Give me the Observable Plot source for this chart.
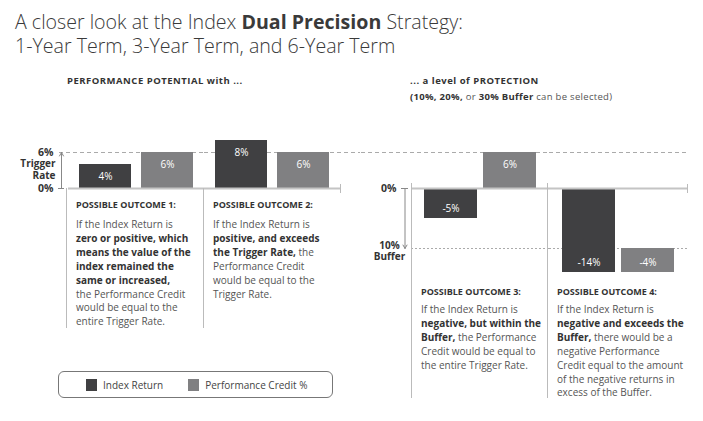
<!DOCTYPE html>
<html><head><meta charset="utf-8">
<script src="https://cdn.jsdelivr.net/npm/d3@7"></script>
<script src="https://cdn.jsdelivr.net/npm/@observablehq/plot@0.6"></script>
<style>
body{margin:0;background:#fff;font-family:"Open Sans",Lato,sans-serif;}
#wrap{position:relative;width:703px;height:421px;overflow:hidden;background:#fff;}
.abs{position:absolute;}
#title{left:15px;top:10px;font-size:19.6px;line-height:23.5px;color:#3a3a3a;font-weight:300;white-space:nowrap;}
#title b{font-weight:700;}
.hdr{font-size:9.5px;font-weight:700;color:#333;white-space:nowrap;line-height:16px;letter-spacing:0.5px;}
.hdr.sub{letter-spacing:0.3px;}
.hdr span{font-weight:400;color:#555;}
.col{border-left:1px solid #bbb;}
.oh{position:absolute;font-size:9px;font-weight:700;color:#333;white-space:nowrap;line-height:14px;}
.ob{position:absolute;font-size:10px;color:#555;white-space:nowrap;line-height:13.9px;}
.ob b{color:#333;font-weight:700;}
.tick{width:1px;height:9px;background:#bbb;}
#legend{left:58px;top:371px;width:275px;height:27px;border:1px solid #777;border-radius:6px;display:flex;align-items:center;padding-left:27px;box-sizing:border-box;font-size:10px;color:#444;white-space:nowrap;}
.sw{width:11px;height:12px;margin-right:6px;flex:none;}
.li{display:flex;align-items:center;margin-right:25px;white-space:nowrap;flex:none;}
svg{overflow:visible;}
</style></head><body>
<div id="wrap">
  <div id="title" class="abs">A closer look at the Index <b>Dual Precision</b> Strategy:<br>1-Year Term, 3-Year Term, and 6-Year Term</div>
  <div class="abs hdr" style="left:67px;top:73px;">PERFORMANCE POTENTIAL with ...</div>
  <div class="abs hdr" style="left:410px;top:73px;">... a level of PROTECTION</div>
  <div class="abs hdr sub" style="left:410px;top:89px;">(10%, 20%, <span>or</span> 30% Buffer <span>can be selected)</span></div>
  <div id="leftPlot" class="abs" style="left:0;top:120px;"></div>
  <div id="rightPlot" class="abs" style="left:360px;top:120px;"></div>
  <div class="abs tick" style="left:340px;top:184px;"></div>
  <div class="abs tick" style="left:687px;top:184px;"></div>
  <div id="legend" class="abs"></div>
</div>
<script>
// ---- data ----
const outcomes = ["Outcome 1", "Outcome 2", "Outcome 3", "Outcome 4"];
const series = ["Index Return", "Performance Credit %"];
const seriesColors = ["#404042", "#808082"];
const indexReturn = [4, 8, -5, -14];
const performanceCredit = [6, 6, 6, -4];
const triggerRate = 6;
const bufferLevel = 10;
const outcomeHeads = ["POSSIBLE OUTCOME 1:", "POSSIBLE OUTCOME 2:", "POSSIBLE OUTCOME 3:", "POSSIBLE OUTCOME 4:"];
const outcomeBodies = [
  ["If the Index Return is", "<b>zero or positive, which</b>", "<b>means the value of the</b>", "<b>index remained the</b>", "<b>same or increased,</b>", "the Performance Credit", "would be equal to the", "entire Trigger Rate."],
  ["If the Index Return is", "<b>positive, and exceeds</b>", "<b>the Trigger Rate,</b> the", "Performance Credit", "would be equal to the", "Trigger Rate."],
  ["If the Index Return is", "<b>negative, but within the</b>", "<b>Buffer,</b> the Performance", "Credit would be equal to", "the entire Trigger Rate."],
  ["If the Index Return is", "<b>negative and exceeds the</b>", "<b>Buffer,</b> there would be a", "negative Performance", "Credit equal to the amount", "of the negative returns in", "excess of the Buffer."]
];

// ---- table for the library ----
const rows = outcomes.flatMap((o, i) => {
  const creditBase = performanceCredit[i] < 0 ? -bufferLevel : 0;
  return [
    {outcome: o, series: series[0], value: indexReturn[i], base: 0, end: indexReturn[i]},
    {outcome: o, series: series[1], value: performanceCredit[i], base: creditBase, end: creditBase + performanceCredit[i]}
  ];
});
const leftRows = rows.filter(d => outcomes.indexOf(d.outcome) < 2);
const rightRows = rows.filter(d => outcomes.indexOf(d.outcome) >= 2);

const font = "'Open Sans', Lato, sans-serif";
const yScale = {domain: [-14, 10], axis: null};
const colorScale = {domain: series, range: seriesColors};
const dashed = {stroke: "#aaa", strokeDasharray: "4,3"};

function barMarks(data) {
  return [
    Plot.barY(data, {fx: "outcome", x: "series", y1: "base", y2: "end", fill: "series"}),
    Plot.ruleY([0], {stroke: "#c4c4c4", strokeWidth: 2}),
    Plot.text(data.filter(d => d.value >= 0), {fx: "outcome", x: "series", y: "end", text: d => `${d.value}%`, dy: 12, fill: "white", fontSize: 10}),
    Plot.text(data.filter(d => d.value < 0), {fx: "outcome", x: "series", y: "end", text: d => `${d.value}%`, dy: -10, fill: "white", fontSize: 10})
  ];
}

const left = Plot.plot({
  width: 360, height: 160,
  marginLeft: 67, marginRight: 20, marginTop: 8, marginBottom: 8,
  style: {fontFamily: font, background: "transparent", overflow: "visible"},
  fx: {domain: outcomes.slice(0, 2), padding: 0, axis: null, label: null},
  x: {domain: series, paddingInner: 0.159, paddingOuter: 0.163, axis: null},
  y: yScale,
  color: colorScale,
  marks: [
    Plot.ruleY([{outcome: outcomes[0]}], {fx: "outcome", y: () => triggerRate, insetLeft: -9, ...dashed}),
    Plot.ruleY([{outcome: outcomes[1]}], {fx: "outcome", y: () => triggerRate, insetRight: -20, ...dashed}),
    ...barMarks(leftRows),
    Plot.axisY({ticks: [0, triggerRate], tickSize: 0, tickPadding: 15, tickFormat: d => `${d}%`, fontWeight: "bold", fontSize: 10.5, color: "#333", label: null}),
    Plot.axisY({ticks: [0], tickSize: 6, dx: -4, tickFormat: () => "", color: "#888", label: null}),
    Plot.arrow([{outcome: outcomes[0]}], {fx: "outcome", x1: () => series[0], x2: () => series[0], y1: () => 0, y2: () => triggerRate, dx: -44, stroke: "#888", strokeWidth: 1, headLength: 6}),
    Plot.text([{outcome: outcomes[0]}], {fx: "outcome", frameAnchor: "left", y: () => triggerRate / 2, text: () => "Trigger\nRate", textAnchor: "end", dx: -13, dy: -1, lineHeight: 1.12, fontWeight: "bold", fontSize: 10, fill: "#333"})
  ]
});

const right = Plot.plot({
  width: 343, height: 160,
  marginLeft: 50, marginRight: 16, marginTop: 8, marginBottom: 8,
  style: {fontFamily: font, background: "transparent", overflow: "visible"},
  fx: {domain: outcomes.slice(2), padding: 0, axis: null, label: null},
  x: {domain: series, paddingInner: 0.109, paddingOuter: 0.2185, axis: null},
  y: yScale,
  color: colorScale,
  marks: [
    Plot.ruleY([{outcome: outcomes[2]}], {fx: "outcome", y: () => triggerRate, insetLeft: -50, ...dashed}),
    Plot.ruleY([{outcome: outcomes[3]}], {fx: "outcome", y: () => triggerRate, ...dashed}),
    Plot.ruleY([-bufferLevel], {stroke: "#aaa", strokeDasharray: "2,2"}),
    ...barMarks(rightRows),
    Plot.axisY({ticks: [0], tickSize: 0, tickPadding: 15, tickFormat: d => `${d}%`, fontWeight: "bold", fontSize: 10.5, color: "#333", label: null}),
    Plot.axisY({ticks: [0], tickSize: 7, dx: -3, tickFormat: () => "", color: "#888", label: null}),
    Plot.arrow([{outcome: outcomes[2]}], {fx: "outcome", x1: () => series[0], x2: () => series[0], y1: () => 0, y2: () => -bufferLevel, dx: -46, stroke: "#888", strokeWidth: 1, headLength: 6}),
    Plot.text([{outcome: outcomes[2]}], {fx: "outcome", frameAnchor: "left", y: () => -bufferLevel, text: () => `${bufferLevel}%\nBuffer`, textAnchor: "middle", dx: -22, dy: 2.5, lineHeight: 1.15, fontWeight: "bold", fontSize: 10, fill: "#333"})
  ]
});

document.getElementById("leftPlot").appendChild(left);
document.getElementById("rightPlot").appendChild(right);

// ---- outcome columns (layout) ----
const colLayout = [
  {left: 66, top: 188, height: 140, head: 205, body: 225},
  {left: 203, top: 188, height: 140, head: 205, body: 225},
  {left: 411, top: 183, height: 215, head: 292, body: 310},
  {left: 547, top: 183, height: 215, head: 292, body: 310}
];
const wrap = document.getElementById("wrap");
colLayout.forEach((c, i) => {
  const col = document.createElement("div");
  col.className = "abs col";
  col.style.cssText = `left:${c.left}px;top:${c.top}px;height:${c.height}px;width:130px;`;
  const h = document.createElement("div");
  h.className = "oh";
  h.style.cssText = `left:9px;top:${c.head - c.top - 7}px;`;
  h.textContent = outcomeHeads[i];
  const b = document.createElement("div");
  b.className = "ob";
  b.style.cssText = `left:9px;top:${c.body - c.top - 7}px;`;
  b.innerHTML = outcomeBodies[i].join("<br>");
  col.appendChild(h); col.appendChild(b);
  wrap.appendChild(col);
});

// ---- legend ----
const legend = document.getElementById("legend");
series.forEach((s, i) => {
  const item = document.createElement("div");
  item.className = "li";
  const sw = document.createElement("div");
  sw.className = "sw";
  sw.style.background = seriesColors[i];
  const t = document.createElement("span");
  t.textContent = s;
  item.appendChild(sw); item.appendChild(t);
  legend.appendChild(item);
});
</script>
</body></html>
